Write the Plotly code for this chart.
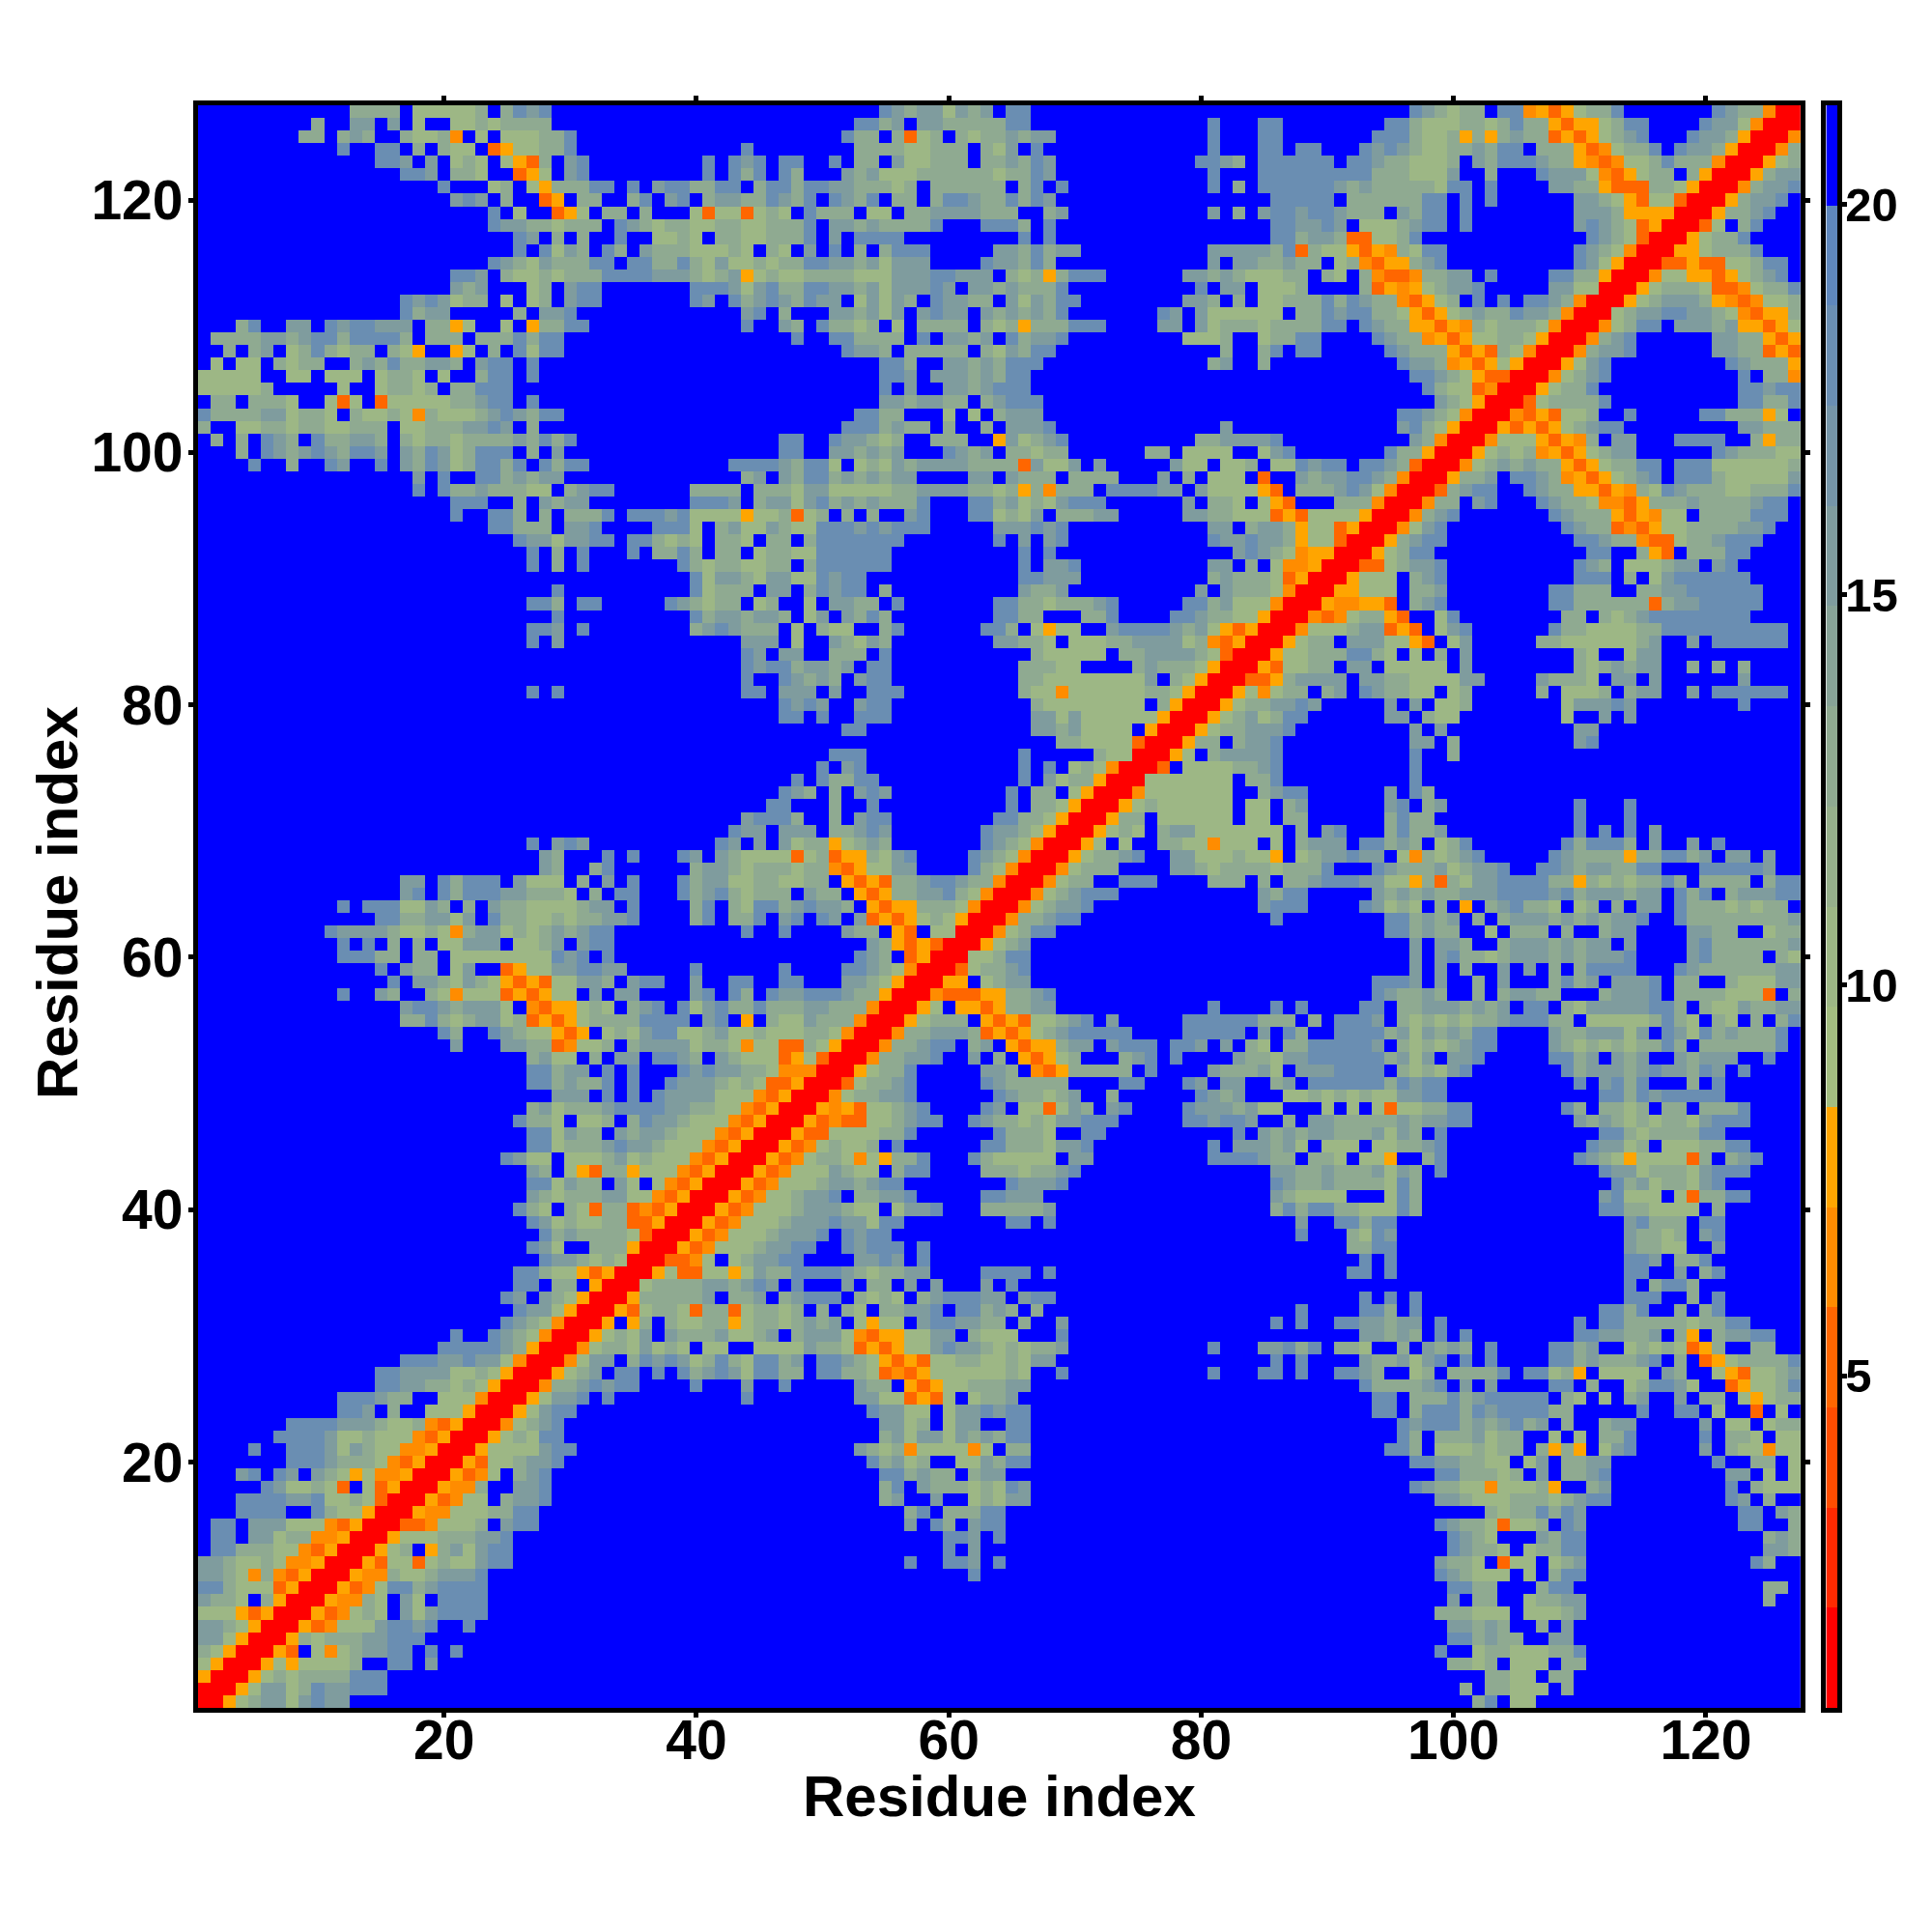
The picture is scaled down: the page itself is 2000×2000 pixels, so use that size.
import plotly.graph_objects as go

N = 127
# Cell codes (upper-right half of a symmetric map): "first_col:cells" per row
level_values = {"R": 1.4, "O": 5.2, "P": 6.5, "A": 7.8, "G": 10.0, "g": 12.9, "b": 15.5, "s": 18.0, ".": 21.0}
row_cells = [
"1:RRAGgbbGbsbb 102:gs.GG",
"2:RRAGbbGgsbbsss 101:g.ggGGG.g",
"3:RRAGgGggggsss 103:ggGG.gg",
"4:RRAGAGGGGg..ss.b 100:ggGg.GGG.gg",
"5:RRAO.GPGgbbss.s.s 99:s..GggGGGggs",
"6:RRAgGgggbbsss 100:ssgbgg..bb",
"7:RRAOPGGGbssbs..s 100:bbgbg..g.b",
"8:RRAOPGgG.bGbssss 99:gggGGG.GGGgb",
"9:RRAPPgG.bG.ssss 100:b.gg..Gggbb 125:g",
"10:RRAOPGssgbssss 100:ssgg...gss 125:gg",
"11:RRAPPgGGgbbbs 62:s 99:sbgGGG.G.gss",
"12:RRAOGGOGgGGbss 57:s 60:ssb 64:s 99:bggG.OGG.Ggb 124:sg",
"13:RRAGg.AgbGbss 60:s.b 100:sbggG.Gggss 125:bbg",
"14:RRAGGGgggbbs 60:ssb 64:s 100:sbgG...bgss 125:gbg",
"15:RROOPGGGg.bss 57:b.sg.bss 99:sbggGOGGg.sb 123:ss..g",
"16:RRAPPGGGggss 57:gs.gggss 103:gGggsgsb 123:ss.bg",
"17:RRAOPGG.gbbs 55:gb..b..GgGbb 99:bbgGGGgggGgbss 122:sb.g",
"18:RRAPPg..bbs 55:gs.bgggGgGsb 97:sbggGGPGGGgA..gb 122:s.gGGG",
"19:RRAOPG.gbs 55:ssgbgg.gbb 99:ssgggGg.b.ggbs 122:bb.G.G",
"20:RRAOGGgbbs 54:sgbGg..GGbgss 97:ssbbggGG.Gb.ggbb 121:s..gg.G",
"21:RRAGGGGbss 53:bgGgPGGGGPG.gg 95:ssg.GGGgGgg.gAgA.Gbs 120:b.gGGPGG",
"22:RRAGgGss 55:gbGbbGbgbgss 96:sg.gggbGgg..G.G.ggs 120:s.ggG.GG",
"23:RRPGgbs 55:bbGg.Gbb..ss 96:sbsssgbgbsgb.g..gbb 120:b.GG.Ggg",
"24:RRAGbss 54:sbbGG.Gbbsbss 94:ss.gsssgsbssssgg 115:s 118:ss.G..O.G",
"25:RRAGbbs.s 44:s 53:bbGGOAOG.Gggb 94:ss.gggsgbsssss.gG.G.gb..b.gg.GAGgg",
"26:RRPggbsbss 40:s 44:b 47:s 53:bgg.AOAGGgggbb 93:sggggbs.b.b 108:ss.g..GgssbG..OAGGgs",
"27:RRAGgb.ss.s.sgbs 43:bGssgg.ssggGOPOAGGGGGGgG..s 81:s 85:ss.s 91:ssbg..Gg.ggggs.ssGgA.GGGG.bg..GAOGGgb",
"28:RRPGbb.gsbsbGgs 43:gGssgb.ssbgGAOAOGGggGGgGbb 86:s.s 93:bggbGbs.s.s 108:ssgbgggbs.g.OAGggggs",
"29:RRPGggGbGgG.GG. 45:GGGGbggGOAOAGGbsbbgGgGggb 81:s 85:bbsgs.ggG..g.bgbg.s 108:ssgb..GgGgGOAg..gg",
"30:RRAGgGb.bgggb 43:GGgb.gbbbGPOAAGGbb.gGGG...s 93:bbgbg.s.s 110:ssbbggb.gA.gbbss",
"31:RRA.Ag.gGGgg 43:AGggGgbgb.GAGG.bssbbgg.g..b 86:s.s 91:ssbbgbb.s 110:s.ssgggggGggss",
"32:RRAOGggGOgg 43:OGggGg.g.gG.ggbbs.ssgbg.g 88:s 93:ssg.s 112:ssgs..g.gs",
"33:RRAgggggb.g 44:gb.gbsss.gGgG.gbsssbb.bss 93:s.s.s 114:sss..g.s",
"34:RRGggggbbgbsb.s...b.gg.b.b...b.s 114:s.gssg",
"35:RRAGOOGGA 44:GbggssssbgGggbb 63:ssss.s 92:ss.s 114:ss..b.gs",
"36:RROOPG.G 44:gbbss....bbsb.s 93:s.s 114:ssb.ggs",
"37:RRAOPGG 44:Ggbbss..sbsss.s 92:ggss 114:bggGG..b",
"38:RRAOPG 44:GGgbbbs.sbss 88:s 92:gGsb 114:bggGg.bs",
"39:RRAOP 44:GGGgbbbsbbGss 65:ss.s 88:b 91:ssgss 114:bsggg.ss",
"40:RRAOP 45:GGGgbbbgGG.Gbbs 63:gggggb 86:gsgssggGGGsg 112:ssggGGGG.g",
"41:RRAOP 46:GGgbbs.ggbbs 63:ssbbb 86:bgGGGG...Gsg 112:bsGGG.GOggss",
"42:RRAOP 47:GGGgbbgbss 65:sbbbs 86:sbggbggggGsg 113:sgbGggGbs",
"43:RRAOP 48:GGGbgGG.gss 63:gggGggbs 86:bbggbgggbGbg.s 112:sbbGgggGbsss",
"44:RRAOPGggGPGAggs 62:sgGGGGG.bb 81:ssssb 86:gg.ggG.GGA..gs 110:sbgGAGGGGOg.gbs",
"45:RRAOPGgGGg.s 63:ssgggGbbs 81:s.bbb 86:gbG.GGG.GGggbs 111:sbbGg.GGGggss",
"46:RRAOOGGGGggs 64:sgggG..ss 83:s.bgbgbbgggbGbg.s 112:ssgGggggss",
"47:RRAOPOOGGgbss 62:sbggGgGbbsss 79:ssbssb 87:g.bbgggggbgbbss 110:bgbgGgGggGbsss",
"48:RRAPAOGGgbs 63:sb.GGOGbg.bs 79:sbbbgbGG...G.G.GOGGggss 109:sg.ggGg.gg.gggs",
"49:RRPGggbbs 64:sbggGgb..g 80:sbgb 87:GGgGgGgGGbbss 112:ssgsbsssss",
"50:RROGggbs 63:sbggggg....ss 79:sb.bb 86:gb.ssssssgsbss 110:s.bsgs...g.s",
"51:RRAGggs 63:bbg.POAggggg.s 81:bgggb 86:G.bbbssss.gGgGbs 109:sgbbbgbsbbgsb.s",
"52:RRPggbbs 62:b.g.AOAGg...gbs.s 83:bggGbbssssssgbGb.bbs 108:ssgb.bgb..bgbbb..s",
"53:RRPggbss 62:gb.AOAAgbb.bsss.ssb.b.g 85:G.ggsssssb.gGgGgbss 108:bgGgGgGggsg.ggggggs",
"54:RRPggbbbgOAOAGgbsssss 79:sssss.b 86:.sg..ssssgbGbgbgss 108:bggbbbGb.sbGsgbgggs",
"55:RRAGggg.AOAOGGgbs.b 79:ssssssggg.g.sssb.gGgGgGggbsss 108:gg.GGGGGgsgG.gG.g.gs",
"56:RRAG.AAOAggbb 81:s 86:s.s 93:ss.ggbbbgbgb.ss.gGbbbbbssg.gGGbggbb",
"57:RRPOOOAAggbs 94:sbggbg..g.gbbgg...gbbbs.ggggGGGO.g",
"58:RRAA.Ggbb 94:sssb.b..g.b...gsgb.bbbs.gg..gGGGbb",
"59:RROGggbs 97:b.b.g..b.b.g.gssss...sbggggggbb",
"60:RRGGgss 97:b.bsggGgbbbgbgbbbs 119:bsgggg.gG",
"61:RRAGgb 97:b.bbg..gbbbgbgbb.b 119:bsggggggb",
"62:RRPGgss 95:ssgbgg..G.ggg.g..gbb 119:bbgg..Ggg",
"63:RRPggbss 86:s 95:ssgbgb.g.gbbbgbgbgbbs 118:sggggggggb",
"64:RRPGgbbs 85:bsss 93:sbGgG.g.A.gbsggG.Gg.g.bb.sgggGgGgg",
"65:RRPGgbsss 85:bgss 94:bgbgbggbbbssssbsgbbbgbb.sgs.gbbbss",
"66:RRPGgg..sss 81:ggg.g.ggbsssbbGGAgOgGbbssssggAgGgGggsg.gggg.gss",
"67:RRPGggg 78:bbgGggggGgggs...sbgggbGgbbs 107:ssbgbbggss...sssssb",
"68:RRAGggbs 78:bbGGGgGGA.Ggbbsbb.GPgGgbs 108:sbggggAggssgb.bb.b",
"69:RRAG.G..ggGGPGGG.G.gbbb.ssgbg.Ggs 109:sgsssg.b 119:b 121:s",
"70:RRAGgG.gbbGGGGG 85:GG.g.bs 95:gsggb 110:s.s.s.b",
"71:RRAgg.GGGGGG.G 85:G.gg 95:gsgg. 110:s 114:s",
"72:RRAGgGGGGGG.G 85:G.gb 95:bs.gb 110:s 114:s",
"73:RRPGGGGGGG..g 85:gbss 95:b.sg",
"74:RRGGGGGGG.gg 85:gs 97:s",
"75:RRO.GGGGgg 85:bs 97:s",
"76:RRAG.gbbb 85:bs 97:s 100:g",
"77:RRAgg.gb 85:bs 97:bb.g 110:bs",
"78:RRAGggb 85:bbs 97:b.b 110:bb",
"79:RRAGgb 85:Ggss 95:bb.gGG 109:G..b.b",
"80:RRAGg 85:gbbsb 95:b.b.GGg 109:Gbbbsb 123:s",
"81:RRAG 85:PGgg.gb.sbggGG.Gg 107:g.GGGg.gbb 119:b 121:ssssss",
"82:RRO 85:OAgbbbb.bbggGGGGbb 107:bgggG.bb.b 123:b",
"83:RR 85:AOGGgg.bb.GGGGG.b 110:gGgbgbb 119:g.g.g",
"84:RR 86:AGGgggssgG.G.g.b 110:gG..Gbb",
"85:RRAGgg.bbbGGAO.Gb 107:ggGGGGGGgb..b.ssssss",
"86:RRPGGGgbbOAO.Gbs 108:sggGGGGggssssssssss",
"87:RRPOPGggAO..Gs 109:gg.gGgbssssssss",
"88:RRAPPAAO.gbs 108:ssggggggOgbbsssss",
"89:RRAAGGG.ggb 108:ssggg..ggbbssssss",
"90:RRAGGG.gbs 110:sss.g.Gbssssss",
"91:RROOGgbbs 110:sbg.GGGgbb.bs",
"92:RRAGgss 111:ss..gAO.gggss",
"93:RRAgbss 110:ssbggPOOGggbsss",
"94:RRPGbs 109:sbggOPOAGGggggbbs",
"95:RRPgbs 108:sbgggAOAPGG.ggggsss",
"96:RRPgg.bs 107:sbggGPPOAgggbggggbss",
"97:RROgbss 106:sbggAAOAPgGsbgggGGgggs",
"98:RRAggb.ssbgPAOAGgbs.sssgGGGGGb",
"99:RRPGgbgbggAOAGggss.sssGGGGGGg",
"100:RRAGgGgPAOAGgbb......sbgggGG",
"101:RRPGGGAOAPg.bb...ssss..gAgg",
"102:RRAOAOAGgbss.........bbggg",
"103:RRPOAOGGg..s.....ssgggAG.",
"104:RROGggggs 123:ssggs",
"105:RRAGggs 123:ssbss",
"106:RRPGgbs 123:s.ggP",
"107:RRAGbs 122:sbgggA",
"108:RRPgbbs 121:bbggOAO",
"109:RRPgbs 121:bbggAOA",
"110:RRPGgss 118:bbbgbAAOAG",
"111:RRGgbbssbbgGPOAAg",
"112:RRAGgbbbgAPOPGGg",
"113:RRAGgggGOOPGggs",
"114:RRPGGAAOAGgbs",
"115:RROOAOOGGgss",
"116:RRAAGgggs",
"117:RRAGggs",
"118:RROG.gs",
"119:RRAggbs",
"120:RRAgbbs",
"121:RRPgbbs",
"122:RRAgbb",
"123:RRAGg",
"124:RRPg",
"125:RRP",
"126:RR",
"127:R",
]
band_colors = ["#ff0000", "#ff2a00", "#ff4d00", "#ff6600", "#ff8c00", "#ffa500",
               "#a3bd80", "#9db785", "#96b08b", "#8faa91", "#87a397", "#7f9c9e",
               "#7595a8", "#6a8eb2", "#5f87bc", "#0000ff"]
z_min, z_max = 0.74, 21.27
axis_ticks = [20, 40, 60, 80, 100, 120]
bar_ticks = [5, 10, 15, 20]
axis_title = "Residue index"

z = [[level_values["."]] * N for _ in range(N)]
for row_idx, line in enumerate(row_cells):
    for part in line.split():
        start, cells = part.split(":")
        for k, ch in enumerate(cells):
            col_idx = int(start) - 1 + k
            if col_idx < N and col_idx >= row_idx:
                z[row_idx][col_idx] = level_values[ch]
                z[col_idx][row_idx] = level_values[ch]

n = len(band_colors)
scale = []
for i, c in enumerate(band_colors):
    scale += [[i / n, c], [(i + 1) / n, c]]
step = (z_max - z_min) / n
bar_edges = [z_min + i * step for i in range(n + 1)]
bar_mids = [[z_min + (i + 0.5) * step] for i in range(n)]

FONT = "Liberation Sans"
BLACK = "black"
ticks = dict(ticks="outside", ticklen=5, tickwidth=5, tickcolor=BLACK, showline=True, linecolor=BLACK,
             linewidth=5, mirror="ticks", showgrid=False, zeroline=False, range=[0.5, 127.5],
             tickvals=axis_ticks, tickfont=dict(family=FONT, size=57, color=BLACK, weight=700))
title_font = dict(family=FONT, size=60, color=BLACK, weight=700)

fig = go.Figure()
fig.add_trace(go.Heatmap(z=z, x=list(range(1, N + 1)), y=list(range(1, N + 1)), colorscale=scale,
                         zmin=z_min, zmax=z_max, hoverinfo="skip", showscale=False))
fig.add_trace(go.Heatmap(z=bar_mids, x=[0, 1], y=bar_edges, colorscale=scale, zmin=z_min, zmax=z_max,
                         hoverinfo="skip", showscale=False, xaxis="x2", yaxis="y2"))
fig.update_layout(
    width=2000, height=2000, margin=dict(l=0, r=0, t=0, b=0), paper_bgcolor="white", plot_bgcolor="white",
    xaxis=dict(domain=[0.09845, 0.92795], ticklabelstandoff=-26, **ticks),
    yaxis=dict(domain=[0.1198, 0.9495], ticklabelstandoff=-6, **ticks),
    xaxis2=dict(domain=[0.9412, 0.9472], range=[0, 1], showticklabels=False, ticks="", showline=True,
                linecolor=BLACK, linewidth=5, mirror=True, showgrid=False, zeroline=False, anchor="y2"),
    yaxis2=dict(domain=[0.1198, 0.9495], range=[z_min, z_max], side="right", anchor="x2", tickvals=bar_ticks,
                ticks="outside", ticklen=5, tickwidth=5, tickcolor=BLACK, showline=True, linecolor=BLACK,
                linewidth=5, mirror=True, showgrid=False, zeroline=False, ticklabelstandoff=-12,
                tickfont=dict(family=FONT, size=49, color=BLACK, weight=700)),
    annotations=[
        dict(text=axis_title, xref="paper", yref="paper", x=0.5130, y=0.0745, showarrow=False,
             xanchor="center", yanchor="middle", font=title_font),
        dict(text=axis_title, xref="paper", yref="paper", x=0.0255, y=0.5365, showarrow=False, textangle=-90,
             xanchor="center", yanchor="middle", font=title_font),
    ],
)
fig.write_html("out.html")
